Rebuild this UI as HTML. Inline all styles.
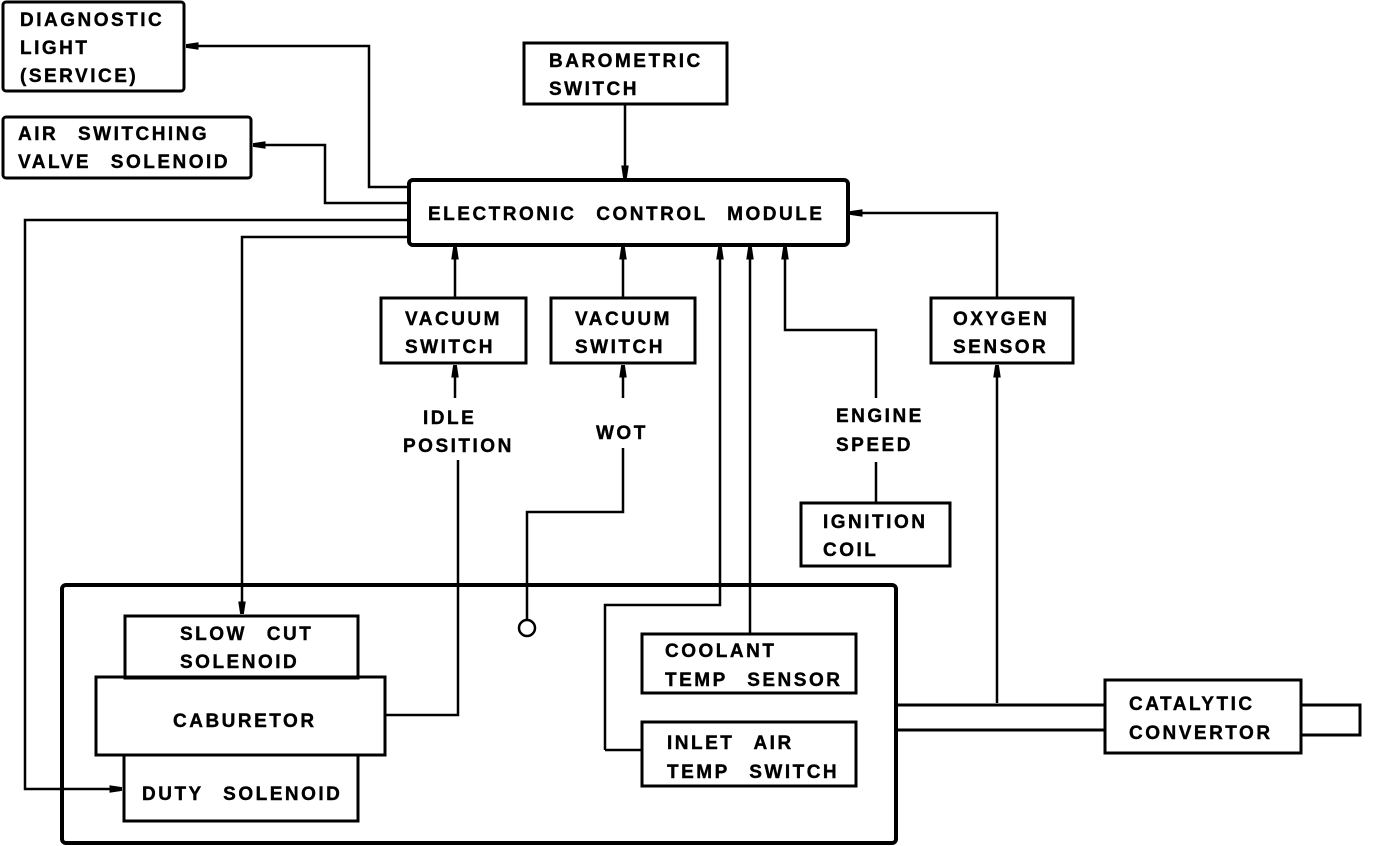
<!DOCTYPE html>
<html><head><style>
html,body{margin:0;padding:0;background:#fff}
svg{display:block}
text{font-family:"Liberation Sans",sans-serif;font-weight:bold;font-size:19px;fill:#000;letter-spacing:2.5px;word-spacing:12px;stroke:#000;stroke-width:0.4}
</style></head><body>
<svg width="1376" height="846" viewBox="0 0 1376 846" xmlns="http://www.w3.org/2000/svg">
<defs>
<marker id="a" viewBox="0 0 10 10" refX="10" refY="5" markerWidth="5" markerHeight="5" orient="auto"><path d="M0,2 L10,3.5 L10,6.5 L0,8 Z" fill="#000"/></marker>
</defs>
<g fill="none" stroke="#000" stroke-width="3">
<rect x="3" y="2" width="181" height="89" rx="3"/>
<rect x="3" y="117" width="248" height="61" rx="3"/>
<rect x="524" y="43" width="203" height="61"/>
<rect x="409" y="180" width="439" height="65" rx="4" stroke-width="4"/>
<rect x="381" y="298" width="145" height="65"/>
<rect x="551" y="298" width="144" height="65"/>
<rect x="931" y="298" width="142" height="65"/>
<rect x="801" y="503" width="149" height="63"/>
<rect x="62" y="585" width="834" height="258" rx="4" stroke-width="4"/>
<rect x="125" y="616" width="233" height="62"/>
<rect x="96" y="677" width="289" height="78"/>
<rect x="124" y="755" width="234" height="66"/>
<rect x="642" y="634" width="214" height="59"/>
<rect x="642" y="722" width="214" height="64"/>
<rect x="1105" y="680" width="196" height="73"/>
<path d="M896,705 H1105 M896,730 H1105 M1301,705 H1360 V735 H1301"/>
</g>
<g fill="none" stroke="#000" stroke-width="2.5">
<path d="M409,187 H369 V46 H186" marker-end="url(#a)"/>
<path d="M409,203 H325 V145 H253" marker-end="url(#a)"/>
<path d="M409,220 H25 V789 H122" marker-end="url(#a)"/>
<path d="M409,237 H242 V614" marker-end="url(#a)"/>
<path d="M625,104 V178" marker-end="url(#a)"/>
<path d="M455,298 V247" marker-end="url(#a)"/>
<path d="M623,298 V247" marker-end="url(#a)"/>
<path d="M455,398 V365" marker-end="url(#a)"/>
<path d="M385,715 H458 V460"/>
<path d="M623,398 V365" marker-end="url(#a)"/>
<path d="M623,448 V512 H527 V620"/>
<circle cx="527" cy="628" r="8"/>
<path d="M876,503 V462 M876,398 V330 H785 V247" marker-end="url(#a)"/>
<path d="M997,298 V213 H850" marker-end="url(#a)"/>
<path d="M997,703 V365" marker-end="url(#a)"/>
<path d="M605,750 H642 M605,750 V605 H720 V247" marker-end="url(#a)"/>
<path d="M750,634 V247" marker-end="url(#a)"/>
</g>
<text x="20" y="26">DIAGNOSTIC</text>
<text x="20" y="54">LIGHT</text>
<text x="20" y="82">(SERVICE)</text>
<text x="18" y="140">AIR SWITCHING</text>
<text x="18" y="168">VALVE SOLENOID</text>
<text x="549" y="67">BAROMETRIC</text>
<text x="549" y="95">SWITCH</text>
<text x="428" y="220">ELECTRONIC CONTROL MODULE</text>
<text x="405" y="325">VACUUM</text>
<text x="405" y="353">SWITCH</text>
<text x="575" y="325">VACUUM</text>
<text x="575" y="353">SWITCH</text>
<text x="953" y="325">OXYGEN</text>
<text x="953" y="353">SENSOR</text>
<text x="423" y="424">IDLE</text>
<text x="403" y="452">POSITION</text>
<text x="596" y="439">WOT</text>
<text x="836" y="422">ENGINE</text>
<text x="836" y="451">SPEED</text>
<text x="823" y="528">IGNITION</text>
<text x="823" y="556">COIL</text>
<text x="180" y="640">SLOW CUT</text>
<text x="180" y="668">SOLENOID</text>
<text x="173" y="727">CABURETOR</text>
<text x="142" y="800">DUTY SOLENOID</text>
<text x="665" y="657">COOLANT</text>
<text x="665" y="686">TEMP SENSOR</text>
<text x="667" y="749">INLET AIR</text>
<text x="667" y="778">TEMP SWITCH</text>
<text x="1129" y="710">CATALYTIC</text>
<text x="1129" y="739">CONVERTOR</text>
</svg>
</body></html>
